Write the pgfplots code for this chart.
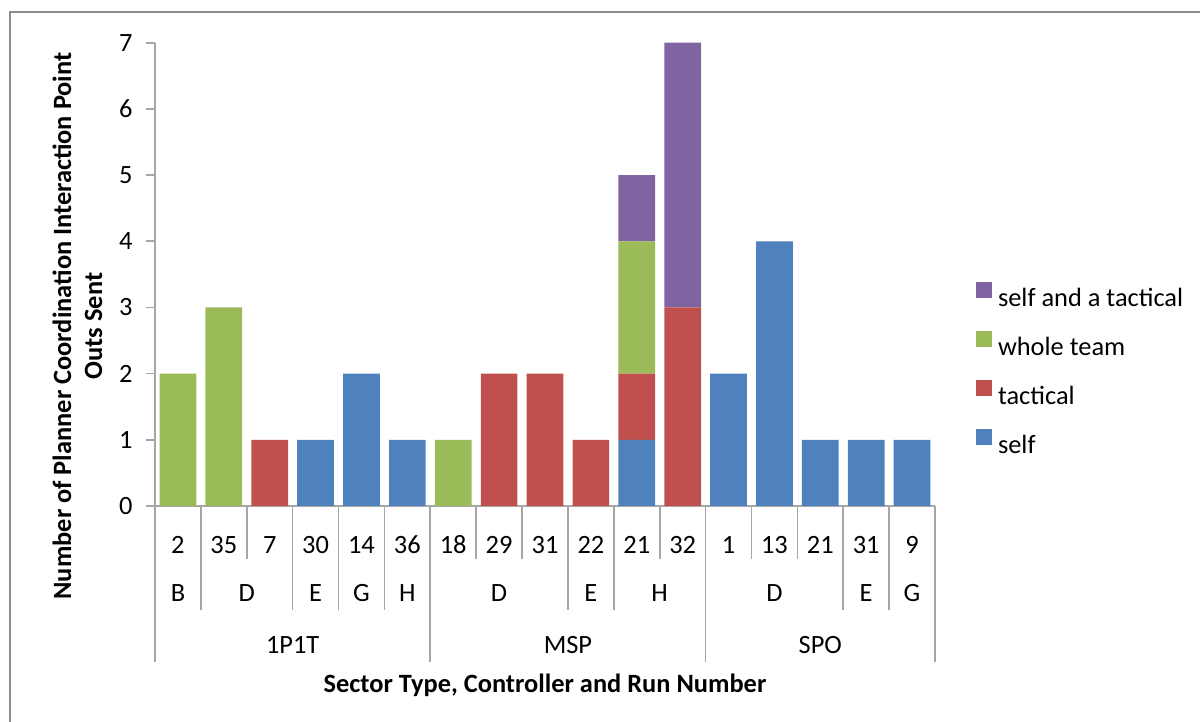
\documentclass[border=0pt]{standalone}
\usepackage{fontspec}
\setmainfont{Carlito}
\usepackage{pgfplots}
\pgfplotsset{compat=1.18}
\definecolor{cself}{HTML}{4F81BD}
\definecolor{ctac}{HTML}{C0504D}
\definecolor{cwhole}{HTML}{9BBB59}
\definecolor{cboth}{HTML}{8064A2}
\definecolor{axgray}{HTML}{A6A6A6}
\definecolor{bordergray}{HTML}{8E8E8E}
\newcommand\cf{\fontsize{13.2pt}{15.5pt}\selectfont}
\begin{document}
\begin{tikzpicture}
\useasboundingbox (-77.5pt,-108pt) rectangle (522.5pt,253pt);
\draw[bordergray, line width=1.3pt] (-72.5pt,-140pt) rectangle (560pt,247pt);
\begin{axis}[
  at={(0,0)}, anchor=south west, scale only axis,
  width=390pt, height=231.65pt,
  xmin=-0.5, xmax=16.5, ymin=0, ymax=7,
  ybar stacked, bar width=0.8,
  clip=false,
  axis lines*=left,
  axis line style={axgray, line width=0.8pt, -},
  ytick={0,1,2,3,4,5,6,7},
  tick align=outside,
  major tick length=4.5pt,
  ytick style={axgray, line width=0.8pt},
  xtick={0,...,16},
  xticklabels={2,35,7,30,14,36,18,29,31,22,21,32,1,13,21,31,9},
  xtick style={draw=none},
  xticklabel style={anchor=center, yshift=-15pt, font=\cf},
  yticklabel style={anchor=east, inner sep=0pt, xshift=-6.5pt, font=\cf},
  /pgf/number format/assume math mode=true,
  legend image code/.code={\fill[#1] (0pt,0pt) rectangle (8pt,8pt);},
  reverse legend,
  legend cell align=left,
  legend style={at={(1.05256,0.4835)}, anchor=north west, draw=none, fill=none,
    inner sep=0pt, outer sep=0pt, row sep=12pt, column sep=3pt, font=\cf,
    nodes={inner sep=0pt, text height=9pt, text depth=0pt}},
]
\addplot[fill=cself, draw=none] coordinates {(0,0) (1,0) (2,0) (3,1) (4,2) (5,1) (6,0) (7,0) (8,0) (9,0) (10,1) (11,0) (12,2) (13,4) (14,1) (15,1) (16,1)};
\addplot[fill=ctac, draw=none] coordinates {(0,0) (1,0) (2,1) (3,0) (4,0) (5,0) (6,0) (7,2) (8,2) (9,1) (10,1) (11,3) (12,0) (13,0) (14,0) (15,0) (16,0)};
\addplot[fill=cwhole, draw=none] coordinates {(0,2) (1,3) (2,0) (3,0) (4,0) (5,0) (6,1) (7,0) (8,0) (9,0) (10,2) (11,0) (12,0) (13,0) (14,0) (15,0) (16,0)};
\addplot[fill=cboth, draw=none] coordinates {(0,0) (1,0) (2,0) (3,0) (4,0) (5,0) (6,0) (7,0) (8,0) (9,0) (10,1) (11,4) (12,0) (13,0) (14,0) (15,0) (16,0)};
\legend{self, tactical, whole team, self and a tactical}
% multi-level category separators
\pgfplotsinvokeforeach{-0.5,5.5,11.5,16.5}{\draw[axgray, line width=0.8pt] (axis cs:#1,0) -- ++(0pt,-78pt);}
\pgfplotsinvokeforeach{0.5,2.5,3.5,4.5,8.5,9.5,14.5,15.5}{\draw[axgray, line width=0.8pt] (axis cs:#1,0) -- ++(0pt,-52pt);}
\pgfplotsinvokeforeach{1.5,6.5,7.5,10.5,12.5,13.5}{\draw[axgray, line width=0.8pt] (axis cs:#1,0) -- ++(0pt,-26.5pt);}
% controller row
\node[font=\cf, yshift=-43.5pt] at (axis cs:0,0) {B};
\node[font=\cf, yshift=-43.5pt] at (axis cs:1.5,0) {D};
\node[font=\cf, yshift=-43.5pt] at (axis cs:3,0) {E};
\node[font=\cf, yshift=-43.5pt] at (axis cs:4,0) {G};
\node[font=\cf, yshift=-43.5pt] at (axis cs:5,0) {H};
\node[font=\cf, yshift=-43.5pt] at (axis cs:7,0) {D};
\node[font=\cf, yshift=-43.5pt] at (axis cs:9,0) {E};
\node[font=\cf, yshift=-43.5pt] at (axis cs:10.5,0) {H};
\node[font=\cf, yshift=-43.5pt] at (axis cs:13,0) {D};
\node[font=\cf, yshift=-43.5pt] at (axis cs:15,0) {E};
\node[font=\cf, yshift=-43.5pt] at (axis cs:16,0) {G};
% sector row
\node[font=\cf, yshift=-69.5pt] at (axis cs:2.5,0) {1P1T};
\node[font=\cf, yshift=-69.5pt] at (axis cs:8.5,0) {MSP};
\node[font=\cf, yshift=-69.5pt] at (axis cs:14,0) {SPO};
% x title
\node[font=\cf\bfseries, anchor=base, yshift=-93pt] at (axis cs:8,0) {Sector Type, Controller and Run Number};
\end{axis}
\node[font=\cf\bfseries, rotate=90, align=center] at (-38.75pt,90pt) {Number of Planner Coordination Interaction Point\\Outs Sent};
\end{tikzpicture}
\end{document}
